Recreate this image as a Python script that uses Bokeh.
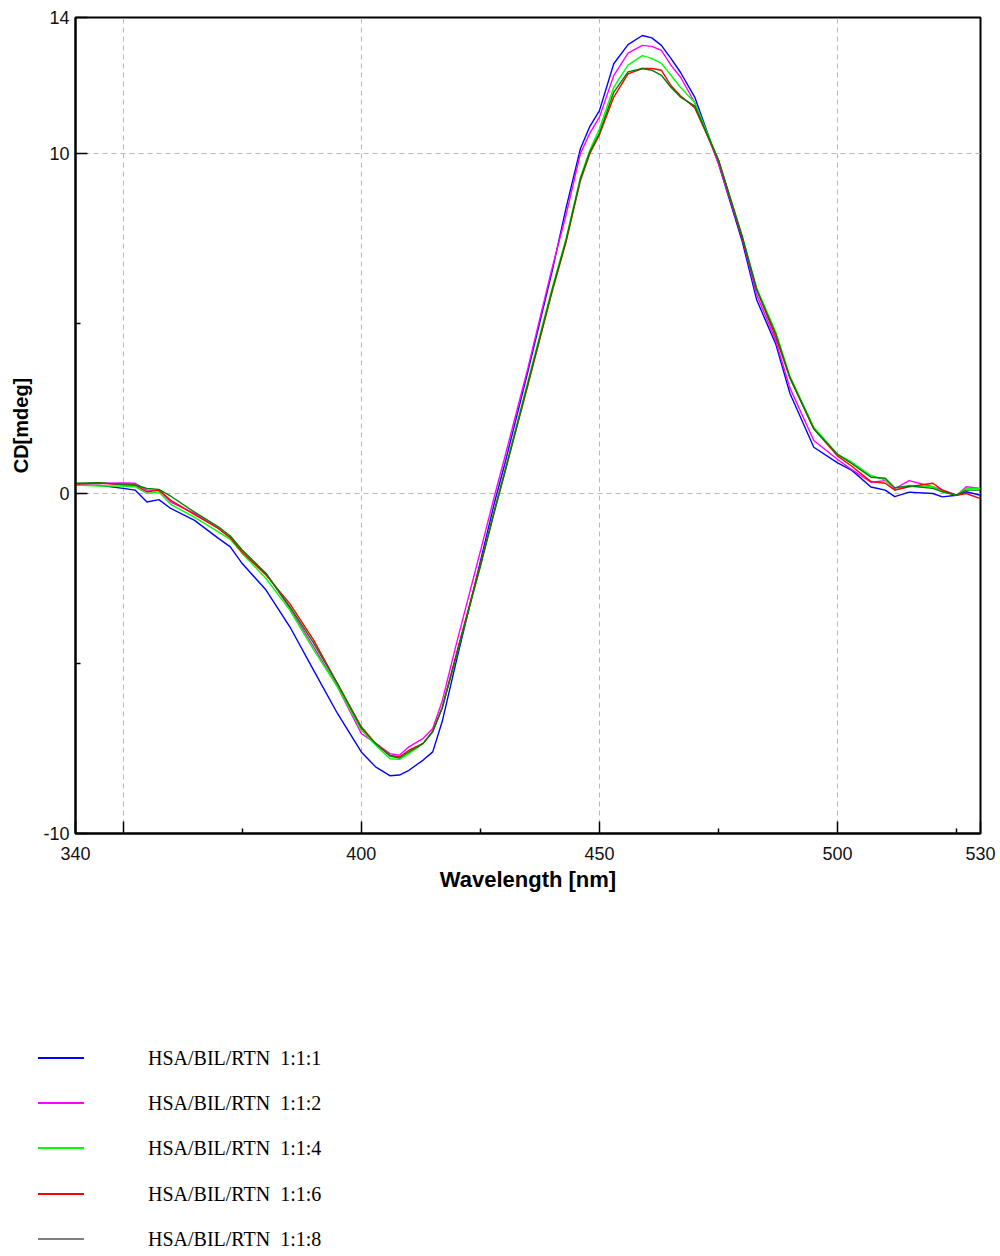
from bokeh.plotting import figure
from bokeh.models import Range1d, FixedTicker, ColumnDataSource, Div
from bokeh.layouts import column
from bokeh.embed import file_html
from bokeh.resources import INLINE

# ---------------- data ----------------
wavelength = [340, 345, 350, 352.5, 355, 357.5, 360, 365, 370, 372.5, 375, 380, 385, 390, 395,
              400, 403, 406, 408, 410, 413, 415, 417, 420, 425, 428, 430, 435, 440, 443, 446,
              448, 450, 453, 456, 459, 461, 463, 465, 467, 470, 475, 480, 483, 487, 490, 495,
              500, 503, 507, 510, 512, 515, 520, 522, 525, 527, 530]

cd_111 = [0.24, 0.24, 0.15, 0.10, -0.25, -0.18, -0.44, -0.79, -1.32, -1.57, -2.06, -2.84, -3.92, -5.20, -6.47,
          -7.60, -8.04, -8.30, -8.28, -8.14, -7.84, -7.60, -6.70, -4.90, -2.00, -0.25, 0.80, 3.60, 6.50, 8.40, 10.14,
          10.80, 11.26, 12.64, 13.20, 13.47, 13.40, 13.18, 12.80, 12.39, 11.66, 9.70, 7.40, 5.70, 4.40, 2.94, 1.36,
          0.90, 0.68, 0.19, 0.10, -0.09, 0.04, 0.00, -0.10, -0.05, 0.05, -0.05]

cd_112 = [0.28, 0.30, 0.31, 0.30, 0.10, 0.10, -0.25, -0.59, -1.03, -1.30, -1.76, -2.35, -3.38, -4.51, -5.69,
          -7.06, -7.35, -7.65, -7.70, -7.45, -7.20, -6.91, -6.10, -4.40, -1.70, -0.05, 1.00, 3.70, 6.60, 8.20, 10.00,
          10.60, 11.07, 12.29, 12.95, 13.18, 13.15, 13.03, 12.60, 12.25, 11.50, 9.70, 7.50, 5.85, 4.50, 3.10, 1.56,
          1.00, 0.70, 0.33, 0.38, 0.14, 0.38, 0.20, 0.10, -0.05, 0.20, 0.15]

cd_114 = [0.25, 0.22, 0.22, 0.20, 0.00, 0.05, -0.32, -0.70, -1.13, -1.35, -1.76, -2.50, -3.43, -4.60, -5.69,
          -6.96, -7.40, -7.80, -7.82, -7.65, -7.35, -7.00, -6.30, -4.75, -2.10, -0.45, 0.60, 3.30, 6.00, 7.50, 9.30,
          10.10, 10.73, 11.95, 12.60, 12.88, 12.80, 12.65, 12.30, 11.95, 11.50, 9.80, 7.55, 6.05, 4.75, 3.45, 1.95,
          1.15, 0.92, 0.53, 0.40, 0.10, 0.24, 0.20, 0.05, -0.05, 0.15, 0.15]

cd_116 = [0.28, 0.30, 0.26, 0.25, 0.05, 0.10, -0.20, -0.62, -1.03, -1.30, -1.72, -2.40, -3.24, -4.31, -5.59,
          -6.86, -7.35, -7.70, -7.75, -7.55, -7.35, -7.00, -6.30, -4.70, -2.10, -0.50, 0.55, 3.20, 5.90, 7.40, 9.20,
          10.00, 10.55, 11.66, 12.34, 12.50, 12.50, 12.45, 12.00, 11.70, 11.35, 9.80, 7.50, 6.00, 4.60, 3.40, 1.90,
          1.10, 0.80, 0.35, 0.30, 0.10, 0.20, 0.30, 0.10, -0.05, 0.00, -0.15]

cd_118 = [0.30, 0.32, 0.26, 0.25, 0.15, 0.12, -0.08, -0.55, -0.98, -1.25, -1.66, -2.35, -3.33, -4.40, -5.60,
          -6.90, -7.35, -7.72, -7.78, -7.60, -7.35, -7.00, -6.30, -4.75, -2.15, -0.50, 0.55, 3.25, 5.95, 7.45, 9.25,
          10.05, 10.60, 11.80, 12.40, 12.50, 12.45, 12.30, 11.95, 11.66, 11.40, 9.80, 7.55, 6.00, 4.70, 3.40, 1.90,
          1.15, 0.88, 0.48, 0.45, 0.17, 0.22, 0.15, 0.05, -0.05, 0.10, 0.10]

series_labels = ["HSA/BIL/RTN  1:1:1", "HSA/BIL/RTN  1:1:2", "HSA/BIL/RTN  1:1:4",
                 "HSA/BIL/RTN  1:1:6", "HSA/BIL/RTN  1:1:8"]
series_values = [cd_111, cd_112, cd_114, cd_116, cd_118]
line_colors = ["#0000FF", "#FF00FF", "#00FF00", "#FF0000", "#008000"]
legend_colors = ["#0000FF", "#FF00FF", "#00FF00", "#FF0000", "#808080"]

x_ticks = [340, 350, 400, 450, 500, 530]
x_minor = [375, 425, 475, 525]
x_grid = [350, 400, 450, 500]
y_ticks = [-10, 0, 10, 14]
y_minor = [-5, 5]
y_grid = [0, 10]

# ---------------- chart ----------------
p = figure(width=1000, height=900, output_backend="svg", toolbar_location=None,
           x_range=Range1d(340, 530), y_range=Range1d(-10, 14),
           min_border_left=75, min_border_right=20, min_border_top=17, min_border_bottom=67)
p.background_fill_color = "white"
p.border_fill_color = "white"
p.outline_line_color = "black"
p.outline_line_width = 2

for vals, col in zip(series_values, line_colors):
    src = ColumnDataSource(dict(x=wavelength, y=vals))
    p.line("x", "y", source=src, line_color=col, line_width=1.4)

p.xaxis.ticker = FixedTicker(ticks=x_ticks, minor_ticks=x_minor)
p.yaxis.ticker = FixedTicker(ticks=y_ticks, minor_ticks=y_minor)
p.xaxis.major_label_overrides = {350: ""}
p.yaxis.major_label_overrides = {-10: "-10"}
p.xgrid.ticker = FixedTicker(ticks=x_grid)
p.ygrid.ticker = FixedTicker(ticks=y_grid)
for g in (p.xgrid, p.ygrid):
    g.grid_line_color = "#b8b8b8"
    g.grid_line_dash = "5 4"
    g.grid_line_width = 1

for ax in (p.xaxis, p.yaxis):
    ax.axis_line_color = "black"
    ax.axis_line_width = 2
    ax.major_tick_in = 12
    ax.major_tick_out = 0
    ax.minor_tick_in = 5
    ax.minor_tick_out = 0
    ax.major_tick_line_color = "black"
    ax.minor_tick_line_color = "black"
    ax.major_tick_line_width = 1.5
    ax.minor_tick_line_width = 1.5
    ax.major_label_text_font = "Liberation Sans"
    ax.major_label_text_font_size = "18px"
    ax.major_label_text_color = "#111111"
    ax.axis_label_text_font = "Liberation Sans"
    ax.axis_label_text_font_style = "bold"
    ax.axis_label_text_color = "black"

p.xaxis.axis_label = "Wavelength [nm]"
p.yaxis.axis_label = "CD[mdeg]"
p.xaxis.axis_label_text_font_size = "22px"
p.yaxis.axis_label_text_font_size = "20px"
p.xaxis.major_label_standoff = 13
p.yaxis.major_label_standoff = 6
p.xaxis.axis_label_standoff = 4
p.yaxis.axis_label_standoff = 8

# ---------------- legend block below the chart ----------------
rows = []
for i, (lab, col) in enumerate(zip(series_labels, legend_colors)):
    c = 158 + round(i * 45.2)
    rows.append(
        f'<div style="position:absolute;left:38px;top:{c - 1}px;width:46px;height:0;'
        f'border-top:2px solid {col};"></div>'
        f'<div style="position:absolute;left:148px;top:{c - 12}px;line-height:24px;'
        f'white-space:pre;">{lab}</div>'
    )
legend_html = ('<div style="position:relative;width:1000px;height:356px;'
               'font-family:\'Liberation Serif\',serif;font-size:20px;color:#000;">'
               + "".join(rows) + '</div>')
legend_div = Div(text=legend_html, width=1000, height=356, margin=0)

layout = column(p, legend_div, spacing=0)
open("out.html", "w").write(file_html(layout, INLINE))
